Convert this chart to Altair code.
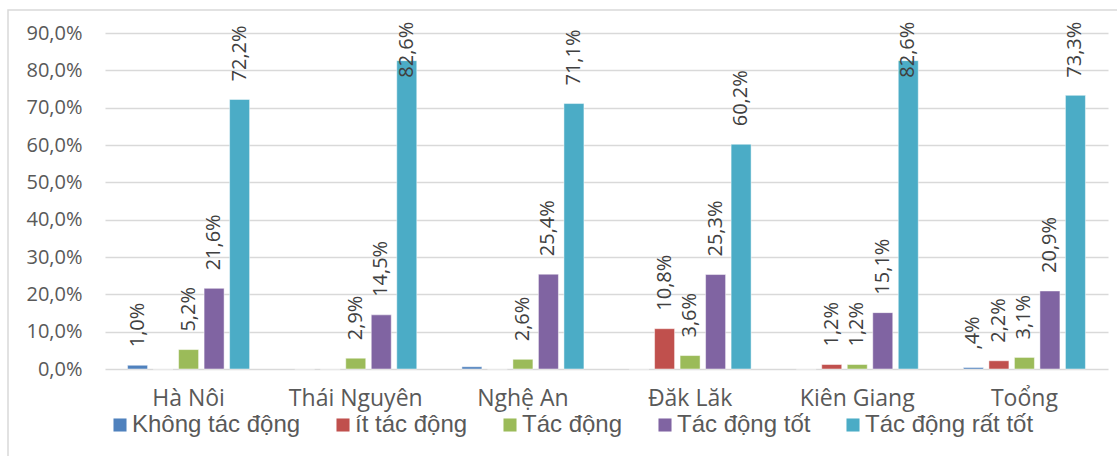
import altair as alt
import pandas as pd

provinces = ["Hà Nôi", "Thái Nguyên", "Nghệ An", "Đăk Lăk", "Kiên Giang", "Toổng"]
series = ["Không tác động", "ít tác động", "Tác động", "Tác động tốt", "Tác động rất tốt"]
colors = ["#4F81BD", "#C0504D", "#9BBB59", "#8064A2", "#4BACC6"]

khong_tac_dong = [1.0, 0.0, 0.6, 0.0, 0.0, 0.4]
it_tac_dong = [0.0, 0.0, 0.0, 10.8, 1.2, 2.2]
tac_dong = [5.2, 2.9, 2.6, 3.6, 1.2, 3.1]
tac_dong_tot = [21.6, 14.5, 25.4, 25.3, 15.1, 20.9]
tac_dong_rat_tot = [72.2, 82.6, 71.1, 60.2, 82.6, 73.3]

lbl_khong = ["1,0%", "", "", "", "", ",4%"]
lbl_it = ["", "", "", "10,8%", "1,2%", "2,2%"]
lbl_tac = ["5,2%", "2,9%", "2,6%", "3,6%", "1,2%", "3,1%"]
lbl_tot = ["21,6%", "14,5%", "25,4%", "25,3%", "15,1%", "20,9%"]
lbl_rat = ["72,2%", "82,6%", "71,1%", "60,2%", "82,6%", "73,3%"]

y_ticks = [0, 10, 20, 30, 40, 50, 60, 70, 80, 90]

all_vals = [khong_tac_dong, it_tac_dong, tac_dong, tac_dong_tot, tac_dong_rat_tot]
all_lbls = [lbl_khong, lbl_it, lbl_tac, lbl_tot, lbl_rat]

rows = []
for s, vals, lbls in zip(series, all_vals, all_lbls):
    for p, v, l in zip(provinces, vals, lbls):
        rows.append({"province": p, "series": s, "value": v, "label": l})
df = pd.DataFrame(rows)

x_axis = alt.Axis(title=None, labelAngle=0, ticks=False, domain=False, grid=False,
                  labelFont="Open Sans", labelFontSize=23, labelColor="#595959",
                  labelPadding=18, labelLimit=0)
y_axis = alt.Axis(title=None, values=y_ticks, ticks=False, domain=False, grid=True,
                  labelOverlap=False,
                  labelExpr="replace(format(datum.value/100, '.1%'), '.', ',')",
                  labelFont="Open Sans", labelFontSize=20, labelColor="#595959",
                  labelPadding=23, gridColor="#D9D9D9", gridWidth=1.5)
x_scale = alt.Scale(paddingInner=0.27, paddingOuter=0.135)
y_scale = alt.Scale(domain=[0, 90], nice=False)
xo_scale = alt.Scale(paddingInner=0.216, paddingOuter=0)

bars = alt.Chart(df).mark_bar(stroke="white", strokeWidth=0.8, strokeOpacity=0.6).encode(
    x=alt.X("province:N", sort=provinces, scale=x_scale, axis=x_axis),
    xOffset=alt.XOffset("series:N", sort=series, scale=xo_scale),
    y=alt.Y("value:Q", scale=y_scale, axis=y_axis),
    color=alt.Color("series:N", sort=series,
                    scale=alt.Scale(domain=series, range=colors),
                    legend=alt.Legend(title=None, orient="none", direction="horizontal",
                                      legendX=3, legendY=380, symbolType="square",
                                      symbolSize=170, symbolStrokeWidth=0, symbolOpacity=1,
                                      labelFont="Liberation Sans", labelFontSize=24,
                                      labelColor="#595959", labelOffset=0, columnPadding=30,
                                      labelLimit=0, columns=5)),
)

labels = alt.Chart(df).transform_calculate(
    ly="min(datum.value, 73.2)"
).mark_text(angle=270, align="left", baseline="middle", dx=18,
            font="Open Sans", fontSize=20, color="#404040").encode(
    x=alt.X("province:N", sort=provinces, scale=x_scale, axis=x_axis),
    xOffset=alt.XOffset("series:N", sort=series, scale=xo_scale),
    y=alt.Y("ly:Q", scale=y_scale, axis=y_axis),
    text="label:N",
)

frame = alt.Chart(pd.DataFrame({"k": [0]})).mark_rect(
    fill=None, stroke="#D9D9D9", strokeWidth=1.5
).encode(x=alt.value(-97), x2=alt.value(1020), y=alt.value(-23), y2=alt.value(430))

chart = alt.layer(frame, bars, labels).properties(
    width=1003, height=336,
    background="white",
    autosize=alt.AutoSizeParams(type="none"),
    padding={"left": 105, "top": 33, "right": 9, "bottom": 87},
).configure_view(strokeWidth=0, stroke="transparent")

chart.save("out.html", embed_options={"renderer": "svg", "actions": False})
